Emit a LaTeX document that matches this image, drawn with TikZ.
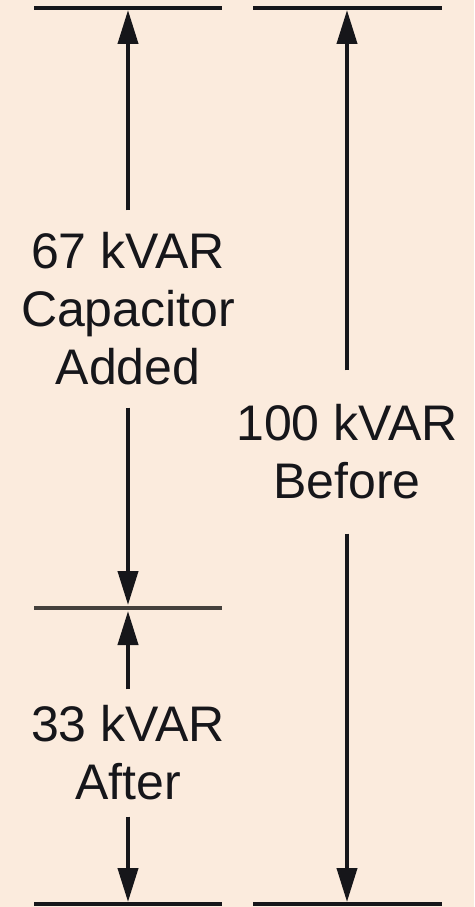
\documentclass[tikz,border=0pt]{standalone}
\usepackage{fontspec}
\setmainfont{Liberation Sans}
\usetikzlibrary{arrows.meta}
\definecolor{peach}{RGB}{251,235,221}
\definecolor{ink}{RGB}{22,22,26}
\definecolor{midgray}{RGB}{68,64,60}

\begin{document}
\begin{tikzpicture}[x=1pt, y=-1pt,
    bar/.style={line width=4pt, ink},
    dim/.style={line width=4pt, ink, -{Triangle[length=34pt, width=20pt]}},
    lbl/.style={font=\fontsize{50}{58}\selectfont, text=ink, align=center, inner xsep=0pt}]
    \fill[peach] (0,0) rectangle (474,907);
    \useasboundingbox (0,0) rectangle (474,907);
    % end points of the bars
    \coordinate (TopA) at (34,8);    \coordinate (TopB) at (222,8);
    \coordinate (TopC) at (253,8);   \coordinate (TopD) at (442,8);
    \coordinate (MidA) at (34,608);  \coordinate (MidB) at (222,608);
    \coordinate (BotA) at (34,904);  \coordinate (BotB) at (222,904);
    \coordinate (BotC) at (253,904); \coordinate (BotD) at (442,904);
    % where the arrows end
    \coordinate (TipL1) at (128,10);  \coordinate (TipL2) at (128,605);
    \coordinate (TipL3) at (128,611); \coordinate (TipL4) at (128,902);
    \coordinate (TipR1) at (347,10);  \coordinate (TipR2) at (347,902);
    % labels
    \node[lbl, inner ysep=22pt] (added) at (128,309) {67 kVAR\\Capacitor\\Added};
    \node[lbl, inner ysep=34pt] (before) at (347,452) {100 kVAR\\Before};
    \node[lbl, inner ysep=16pt] (after) at (128,753) {33 kVAR\\After};
    % bars
    \draw[bar] (TopA) -- (TopB);
    \draw[bar] (TopC) -- (TopD);
    \draw[bar, midgray] (MidA) -- (MidB);
    \draw[bar] (BotA) -- (BotB);
    \draw[bar] (BotC) -- (BotD);
    % arrows
    \draw[dim] (added.north) -- (TipL1);
    \draw[dim] (added.south) -- (TipL2);
    \draw[dim] (after.north) -- (TipL3);
    \draw[dim] (after.south) -- (TipL4);
    \draw[dim] (before.north) -- (TipR1);
    \draw[dim] (before.south) -- (TipR2);
\end{tikzpicture}
\end{document}
